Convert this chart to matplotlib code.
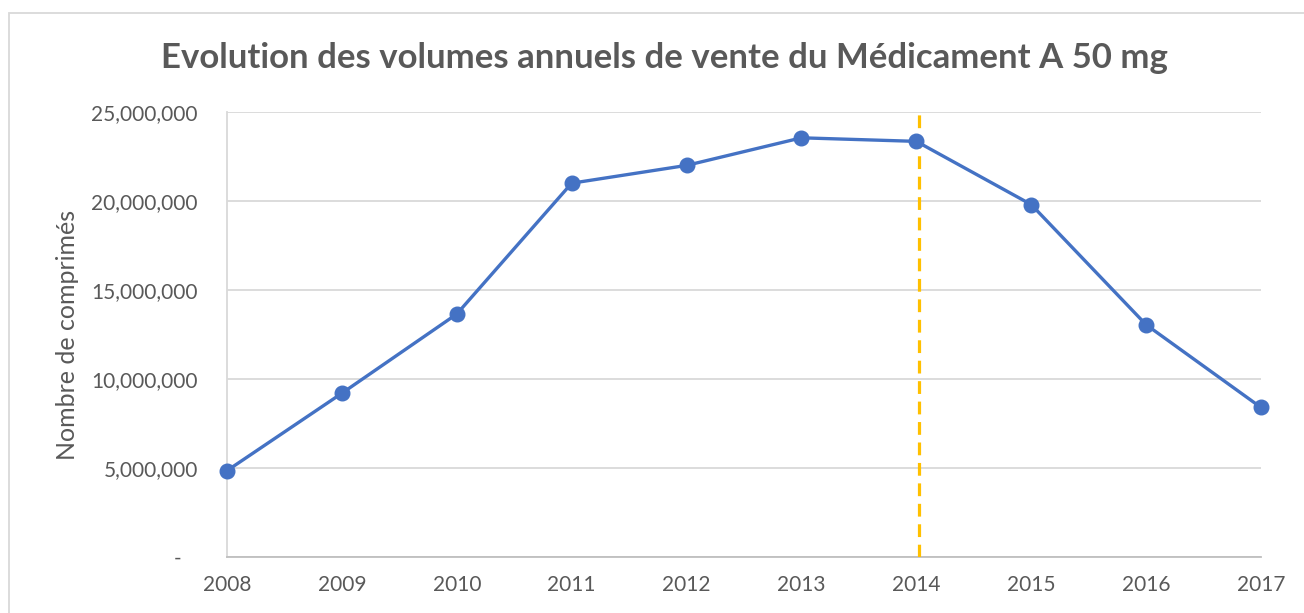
import matplotlib
matplotlib.use("Agg")
import matplotlib.pyplot as plt
from matplotlib.patches import Rectangle
from matplotlib.ticker import FuncFormatter

years = [2008, 2009, 2010, 2011, 2012, 2013, 2014, 2015, 2016, 2017]
volumes = [4.85e6, 9.2e6, 13.65e6, 21.0e6, 22.0e6, 23.55e6, 23.35e6, 19.8e6, 13.05e6, 8.4e6]
marker_year = 2014.02
title = "Evolution des volumes annuels de vente du Médicament A 50 mg"
ylabel = "Nombre de comprimés"

grey = "#595959"
plt.rcParams['font.family'] = ['Lato', 'DejaVu Sans']

fig = plt.figure(figsize=(13.04, 6.13), dpi=100)
ax = fig.add_axes([227 / 1304, 1 - 557 / 613, (1261 - 227) / 1304, (557 - 112) / 613])

# chart frame (partially cropped in the original)
fig.patches.append(Rectangle((9 / 1304, -0.1), 1.2, 1 - 13 / 613 + 0.1, transform=fig.transFigure,
                             fill=False, edgecolor="#D9D9D9", linewidth=1.3))

ax.plot(years, volumes, color="#4472C4", linewidth=2.4, marker="o", markersize=10.5,
        clip_on=False, zorder=4)
ax.plot([marker_year, marker_year], [0, 25e6], color="#FFC000", linewidth=2.3,
        linestyle=(0, (4, 2.4)), zorder=3)

ax.set_xlim(2008, 2017)
ax.set_ylim(0, 25e6)
ax.set_xticks(years)
ax.set_yticks([0, 5e6, 10e6, 15e6, 20e6, 25e6])
ax.yaxis.set_major_formatter(FuncFormatter(lambda v, p: "-   " if v == 0 else f"{v:,.0f}"))

ax.grid(axis="y", color="#D9D9D9", linewidth=1.3)
ax.set_axisbelow(True)
for s in ["top", "right"]:
    ax.spines[s].set_visible(False)
ax.spines["left"].set_color("#D9D9D9")
ax.spines["left"].set_linewidth(1.3)
ax.spines["bottom"].set_color("#BFBFBF")
ax.spines["bottom"].set_linewidth(1.3)

ax.tick_params(axis="both", length=0, labelsize=15, labelcolor=grey)
ax.tick_params(axis="y", pad=21)
ax.tick_params(axis="x", pad=13)

ax.set_ylabel(ylabel, fontsize=18, color=grey, labelpad=9)
fig.text(664 / 1304, 1 - 58 / 613, title, fontsize=25, fontweight="bold", color=grey,
         ha="center", va="center")

fig.savefig("out.png", dpi=100)
